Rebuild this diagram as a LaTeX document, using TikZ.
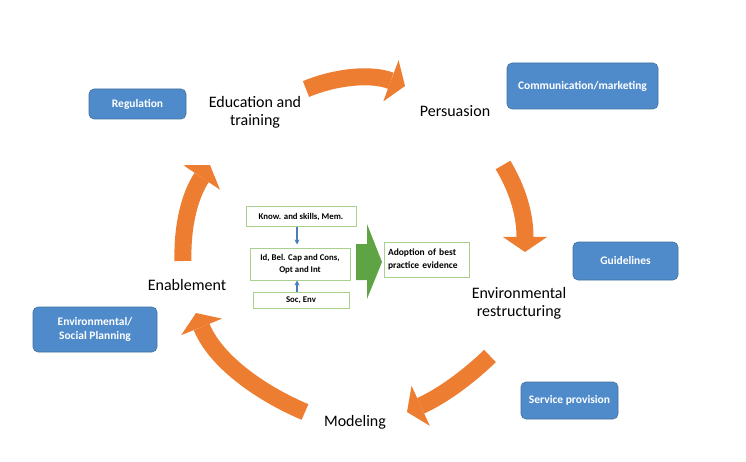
\documentclass[tikz,border=0pt]{standalone}
\usepackage{fontspec}
\setmainfont{Carlito}
\usetikzlibrary{arrows.meta}
\definecolor{orangeA}{HTML}{ED7D31}
\definecolor{blueA}{HTML}{4F8BCB}
\definecolor{blueB}{HTML}{41719C}
\definecolor{greenA}{HTML}{A9D18E}
\definecolor{greenB}{HTML}{5EA445}
\definecolor{blueL}{HTML}{4A7EBB}
\tikzset{
  lbl/.style={align=center,font=\fontsize{16}{18}\selectfont,inner sep=0pt},
  bluebox/.style={fill=blueA,draw=blueB,line width=0.6pt,rounded corners=5pt,text=white,
    font=\bfseries\fontsize{11.5}{14}\selectfont,align=center,inner sep=0pt},
  greenbox/.style={draw=greenA,line width=1pt,fill=white,
    font=\bfseries\fontsize{8.8}{12.5}\selectfont,align=center,inner sep=0pt},
  fat/.style={draw=orangeA,line width=17pt,
    -{Triangle[width=44pt,length=15pt,line width=0pt]}},
  smallarr/.style={draw=blueL,line width=1.6pt,-{Stealth[length=5pt,width=5pt]}}
}
\begin{document}
\begin{tikzpicture}[x=1pt,y=-1pt]
\useasboundingbox (0,0) rectangle (746,462);

% labels
\node[lbl] (edu) at (255,112) {Education and\\training};
\node[lbl] (pers) at (455,111) {Persuasion};
\node[lbl] (envr) at (519,303) {Environmental\\restructuring};
\node[lbl] (model) at (355,422) {Modeling};
\node[lbl] (enab) at (187,285) {Enablement};

% blue boxes
\node[bluebox,minimum width=97pt,minimum height=30pt] (reg) at (137.5,104) {Regulation};
\node[bluebox,minimum width=151pt,minimum height=46pt] (comm) at (582.5,86) {Communication/marketing};
\node[bluebox,minimum width=105pt,minimum height=38pt] (guide) at (625.5,261) {Guidelines};
\node[bluebox,minimum width=124pt,minimum height=45pt] (plan) at (95,329.5) {Environmental/\\Social Planning};
\node[bluebox,minimum width=97pt,minimum height=37pt] (serv) at (569.5,400.5) {Service provision};

% green boxes
\node[greenbox,minimum width=110pt,minimum height=20pt] (know) at (301,217) {Know. and skills, Mem.};
\node[greenbox,minimum width=100pt,minimum height=32pt] (id) at (300,264) {Id, Bel. Cap and Cons,\\Opt and Int};
\node[greenbox,minimum width=96pt,minimum height=16pt] (soc) at (301,300) {Soc, Env};
\node[greenbox,minimum width=85pt,minimum height=35pt,text width=77pt,align=left,
  font=\bfseries\fontsize{9.5}{12.5}\selectfont] (adopt) at (426.5,259.5) {Adoption of best\\practice evidence};

% small blue arrows
\draw[smallarr,shorten >=3pt] ([xshift=-4pt]know.south) -- ([xshift=-3pt]id.north);
\draw[smallarr] ([xshift=-4pt]soc.north) -- ([xshift=-3pt]id.south);

% green block arrow
\fill[greenB] (356,244) -- (367,244) -- (367,224) -- (382,262) -- (367,299) -- (367,280) -- (356,280) -- cycle;

% orange curved arrows
\coordinate (a1s) at (306,89);
\coordinate (a1e) at (405,86);
\draw[fat] (a1s) .. controls (335,77) and (370,73) .. (a1e);
\coordinate (a2s) at (503,165);
\coordinate (a2e) at (525,252);
\draw[fat] (a2s) .. controls (518,190) and (525,215) .. (a2e);
\coordinate (a3s) at (490,356);
\coordinate (a3e) at (407,412);
\draw[fat] (a3s) .. controls (465,380) and (440,397) .. (a3e);
\coordinate (a4s) at (305,412);
\coordinate (a4e) at (196,313);
\draw[fat] (a4s) .. controls (258,392) and (215,360) .. (a4e);
\coordinate (a5s) at (183,261);
\coordinate (a5e) at (210,165);
\draw[fat] (a5s) .. controls (182,225) and (190,195) .. (a5e);
\end{tikzpicture}
\end{document}
